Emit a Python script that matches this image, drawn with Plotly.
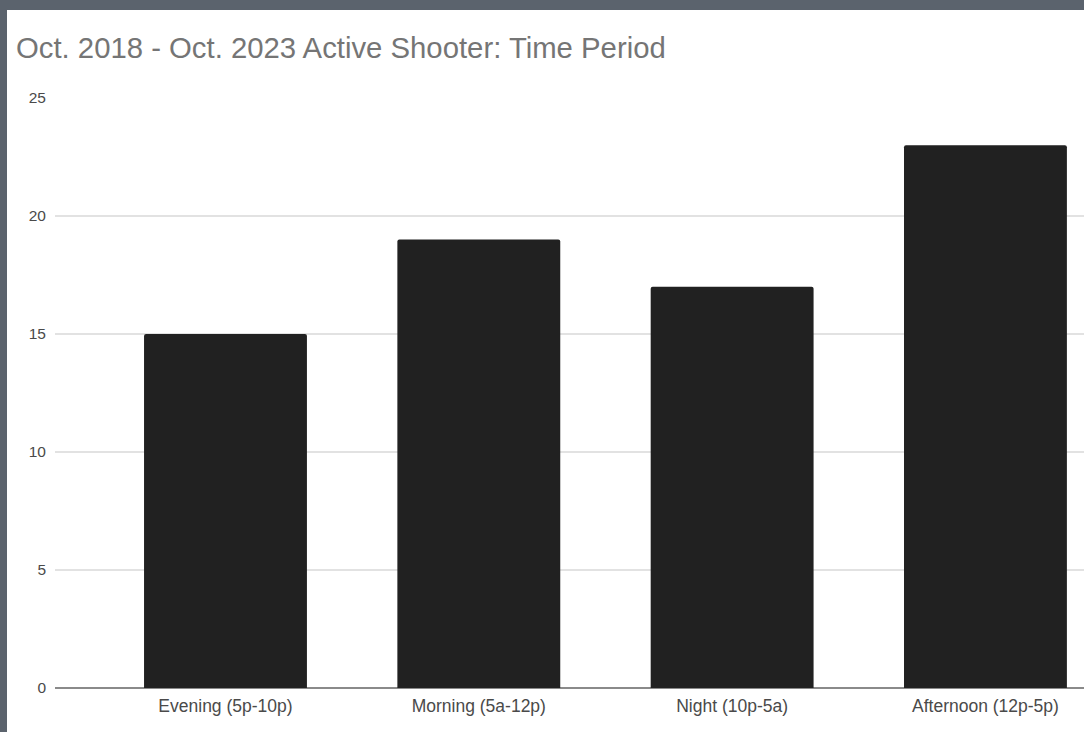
import plotly.graph_objects as go

# Active shooter incidents by time of day, Oct. 2018 - Oct. 2023
periods = ["Evening (5p-10p)", "Morning (5a-12p)", "Night (10p-5a)", "Afternoon (12p-5p)"]
incidents = [15, 19, 17, 23]
y_ticks = [0, 5, 10, 15, 20, 25]

W, H = 1084, 732
L, R, T, B = 55, 0, 98, 44
plot_w = W - L - R
plot_h = H - T - B


def px_x(px):
    return (px - L) / plot_w


def px_y(py):
    return (H - B - py) / plot_h


fig = go.Figure(
    go.Bar(
        x=list(range(len(periods))),
        y=incidents,
        width=0.643,
        marker=dict(color="#212121", line=dict(width=0), cornerradius=2),
        hoverinfo="x+y",
    )
)

fig.update_layout(
    width=W,
    height=H,
    margin=dict(l=L, r=R, t=T, b=B, pad=0),
    paper_bgcolor="#5b636d",
    plot_bgcolor="rgba(0,0,0,0)",
    showlegend=False,
    font=dict(family="Liberation Sans, Arial, sans-serif", color="#444444"),
    title=dict(
        text="Oct. 2018 - Oct. 2023 Active Shooter: Time Period",
        font=dict(size=29.3, color="#757575", family="Liberation Sans, Arial, sans-serif"),
        xref="container",
        yref="container",
        x=16 / W,
        xanchor="left",
        y=1 - 48 / H,
        yanchor="middle",
    ),
    shapes=[
        dict(
            type="rect",
            xref="paper",
            yref="paper",
            x0=px_x(7),
            x1=px_x(W + 5),
            y0=px_y(H + 5),
            y1=px_y(10),
            fillcolor="#ffffff",
            line=dict(width=0),
            layer="below",
        )
    ],
    xaxis=dict(
        range=[-0.673, 3.389],
        tickmode="array",
        tickvals=list(range(len(periods))),
        ticktext=periods,
        tickfont=dict(size=17.5, color="#4a4a4a"),
        ticklabelstandoff=5,
        showgrid=False,
        showline=False,
        ticks="",
        zeroline=False,
        fixedrange=True,
    ),
    yaxis=dict(
        range=[0, 25],
        tickmode="array",
        tickvals=y_ticks,
        tickfont=dict(size=15.5, color="#4a4a4a"),
        showgrid=True,
        gridcolor="#e2e2e2",
        gridwidth=1.5,
        zeroline=True,
        zerolinecolor="#8a8a8a",
        zerolinewidth=2,
        showline=False,
        ticks="",
        ticklabelstandoff=8,
        fixedrange=True,
    ),
)

fig.write_html("out.html")
